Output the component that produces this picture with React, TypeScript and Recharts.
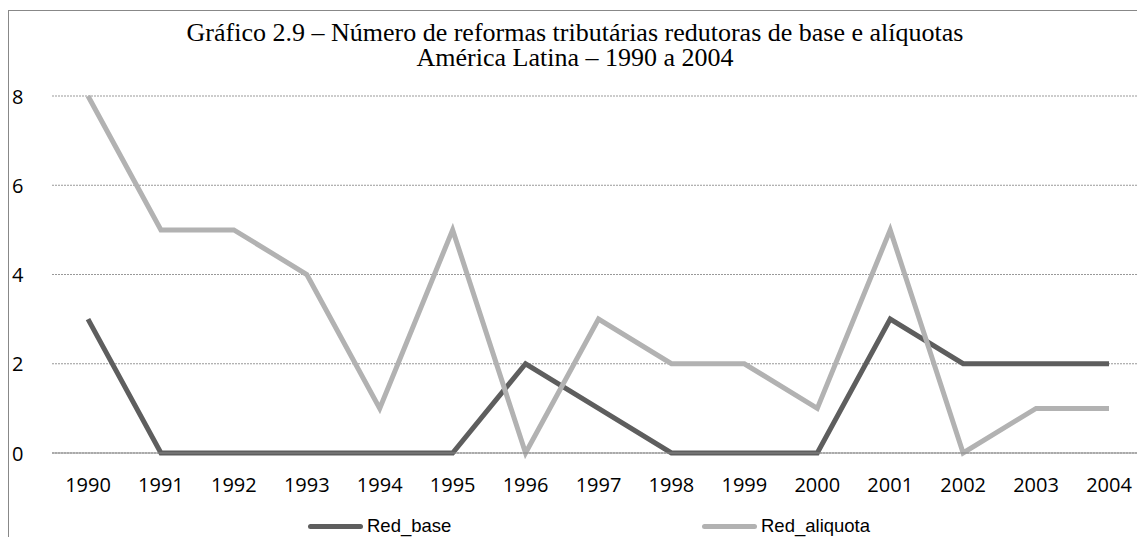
import React from 'react';
import { LineChart, Line, XAxis, YAxis, CartesianGrid, Legend } from 'recharts';

const years = ['1990', '1991', '1992', '1993', '1994', '1995', '1996', '1997', '1998', '1999', '2000', '2001', '2002', '2003', '2004'];
const redBase = [3, 0, 0, 0, 0, 0, 2, 1, 0, 0, 0, 3, 2, 2, 2];
const redAliquota = [8, 5, 5, 4, 1, 5, 0, 3, 2, 2, 1, 5, 0, 1, 1];
const yTicks = [0, 2, 4, 6, 8];

const data = years.map((y, i) => ({ year: y, Red_base: redBase[i], Red_aliquota: redAliquota[i] }));

const BASE_COLOR = '#5e5e5e';
const ALIQ_COLOR = '#b2b2b2';
const TICK_FONT = '"Open Sans", sans-serif';

const YTick = ({ y, payload }: any) => (
  <text x={12} y={y} dominantBaseline="central" fontFamily={TICK_FONT} fontSize={20} fill="#000">
    {payload.value}
  </text>
);

const XTick = ({ x, y, payload }: any) => (
  <text x={x} y={y + 31} textAnchor="middle" fontFamily={TICK_FONT} fontSize={20} fill="#000">
    {payload.value}
  </text>
);

const LegendContent = () => {
  const items = [
    { name: 'Red_base', color: BASE_COLOR, left: 308 },
    { name: 'Red_aliquota', color: ALIQ_COLOR, left: 702 },
  ];
  return (
    <div style={{ position: 'relative', height: 30 }}>
      {items.map((it) => (
        <div
          key={it.name}
          style={{ position: 'absolute', left: it.left, top: 8, height: 22, display: 'flex', alignItems: 'center' }}
        >
          <div style={{ width: 55, height: 5, borderRadius: 3, background: it.color }} />
          <span style={{ marginLeft: 4, fontFamily: '"Liberation Sans", Arial, sans-serif', fontSize: 18.5, color: '#000' }}>
            {it.name}
          </span>
        </div>
      ))}
    </div>
  );
};

const App: React.FC = () => {
  return (
    <div style={{ position: 'absolute', top: 0, left: 0, width: 1137, height: 537, overflow: 'hidden', background: '#fff' }}>
      <div style={{ position: 'absolute', left: 8, top: 10, width: 1200, height: 600, borderLeft: '1px solid #888', borderTop: '1px solid #888' }} />
      <div
        style={{
          position: 'absolute',
          left: 8,
          top: 20,
          width: 1134,
          textAlign: 'center',
          fontFamily: '"Liberation Serif", "Times New Roman", serif',
          fontSize: 26,
          lineHeight: '25px',
          color: '#000',
        }}
      >
        Gráfico 2.9 – Número de reformas tributárias redutoras de base e alíquotas
        <br />
        América Latina – 1990 a 2004
      </div>
      <LineChart width={1145} height={537} data={data} margin={{ top: 96, right: 0, left: 0, bottom: 0 }}>
        <CartesianGrid vertical={false} stroke="#999" strokeDasharray="2 1" />
        <XAxis
          dataKey="year"
          height={54}
          padding={{ left: 36, right: 36 }}
          tickLine={false}
          axisLine={{ stroke: '#888' }}
          tick={<XTick />}
          interval={0}
        />
        <YAxis width={52} domain={[0, 8]} ticks={yTicks} axisLine={false} tickLine={false} tick={<YTick />} />
        <Legend verticalAlign="bottom" content={<LegendContent />} wrapperStyle={{ left: 0, width: 1137 }} />
        <Line type="linear" dataKey="Red_base" stroke={BASE_COLOR} strokeWidth={5} dot={false} isAnimationActive={false} />
        <Line type="linear" dataKey="Red_aliquota" stroke={ALIQ_COLOR} strokeWidth={5} dot={false} isAnimationActive={false} />
      </LineChart>
    </div>
  );
};

export default App;
